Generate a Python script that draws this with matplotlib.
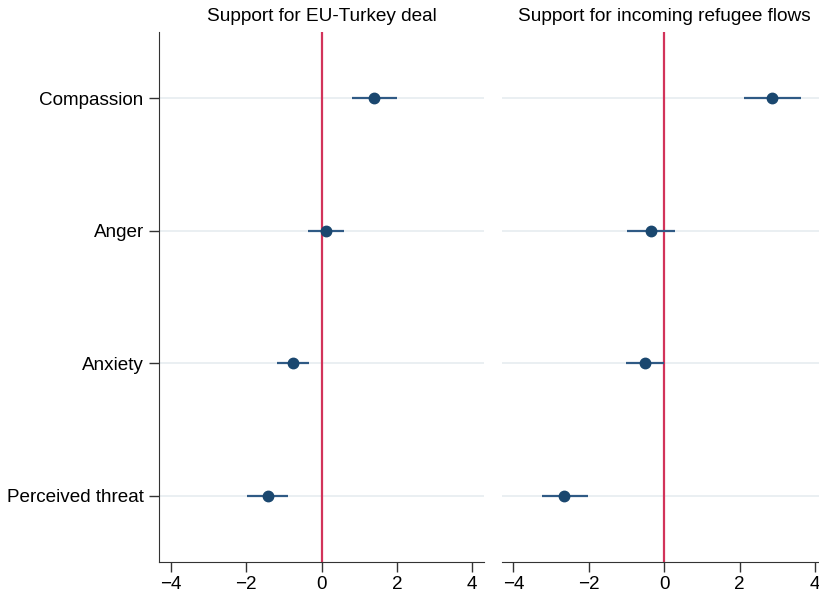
import matplotlib
matplotlib.use("Agg")
import matplotlib.pyplot as plt

plt.rcParams['font.family'] = ['Liberation Sans', 'DejaVu Sans']

emotions = ["Compassion", "Anger", "Anxiety", "Perceived threat"]
panel_titles = ["Support for EU-Turkey deal", "Support for incoming refugee flows"]

# Coefficient estimates with 95% confidence bounds
deal_coef = [1.39, 0.12, -0.76, -1.43]
deal_lo = [0.80, -0.35, -1.18, -1.97]
deal_hi = [1.99, 0.60, -0.34, -0.90]

flows_coef = [2.86, -0.34, -0.51, -2.65]
flows_lo = [2.11, -0.98, -1.02, -3.25]
flows_hi = [3.62, 0.28, -0.01, -2.01]

xticks = [-4, -2, 0, 2, 4]

navy = "#1a476f"
ci_col = "#2f5a85"
red = "#d2335a"
grid_col = "#eaeff2"

fig = plt.figure(figsize=(8.19, 5.92), dpi=100)
ax1 = fig.add_axes([159 / 819, 30 / 592, 325 / 819, 530 / 592])
ax2 = fig.add_axes([501.7 / 819, 30 / 592, 325 / 819, 530 / 592])

ypos = [1, 2, 3, 4]
panels = [(ax1, deal_coef, deal_lo, deal_hi), (ax2, flows_coef, flows_lo, flows_hi)]
for i, (ax, coef, lo, hi) in enumerate(panels):
    for y in ypos:
        ax.axhline(y, color=grid_col, lw=1.4, zorder=0)
    ax.axvline(0, color=red, lw=1.6, zorder=1)
    ax.hlines(ypos, lo, hi, color=ci_col, lw=1.6, zorder=2)
    ax.plot(coef, ypos, 'o', color=navy, ms=7.5, zorder=3)
    ax.set_xlim(-4.31, 4.31)
    ax.set_ylim(4.5, 0.5)
    ax.set_xticks(xticks)
    ax.tick_params(axis='x', labelsize=13.6, length=7, width=1, color="#333333", pad=3)
    ax.set_title(panel_titles[i], fontsize=13.7, pad=8)
    for s in ["top", "right"]:
        ax.spines[s].set_visible(False)
    ax.spines["bottom"].set_color("#333333")
    ax.spines["left"].set_color("#333333")

ax1.set_yticks(ypos)
ax1.set_yticklabels(emotions)
ax1.tick_params(axis='y', labelsize=13.6, length=7, width=1, color="#333333", pad=4)

ax2.set_yticks([])
ax2.spines["left"].set_visible(False)

fig.savefig("out.png", dpi=100, facecolor="white")
